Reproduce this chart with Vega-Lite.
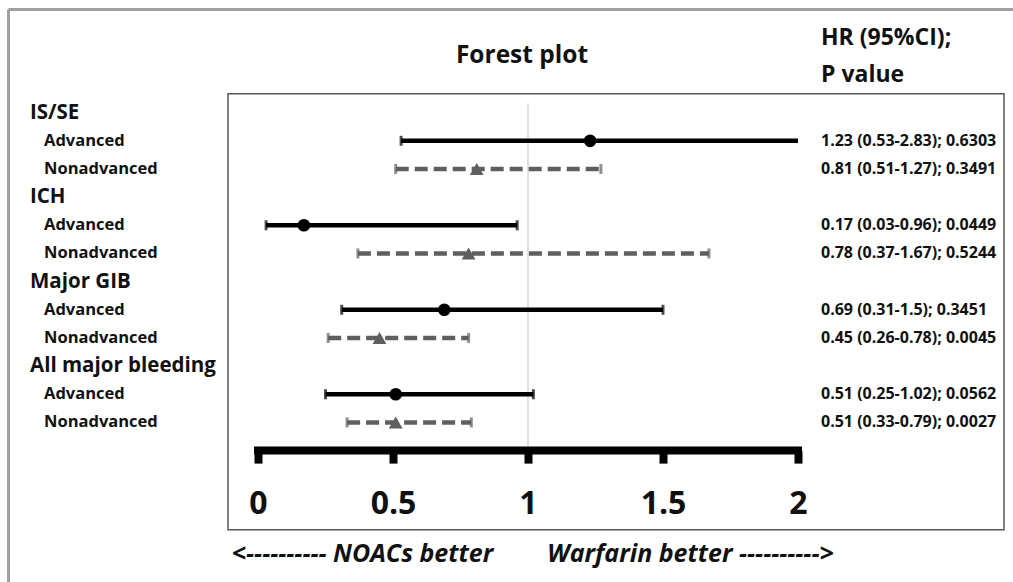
{
  "$schema": "https://vega.github.io/schema/vega-lite/v6.json",
  "width": 1013,
  "height": 450.6,
  "autosize": "none",
  "padding": {"left": 0, "top": 0, "right": 0, "bottom": 131.4},
  "background": "white",
  "config": {
    "view": {"stroke": null},
    "text": {"font": "Open Sans", "fontWeight": "bold", "color": "#111111"}
  },
  "datasets": {
    "rows": [
      {"group": "IS/SE", "sub": "Advanced", "key": "IS/SE Advanced", "hr": 1.23, "lo": 0.53, "hi": 2.83, "label": "1.23 (0.53-2.83); 0.6303"},
      {"group": "IS/SE", "sub": "Nonadvanced", "key": "IS/SE Nonadvanced", "hr": 0.81, "lo": 0.51, "hi": 1.27, "label": "0.81 (0.51-1.27); 0.3491"},
      {"group": "ICH", "sub": "Advanced", "key": "ICH Advanced", "hr": 0.17, "lo": 0.03, "hi": 0.96, "label": "0.17 (0.03-0.96); 0.0449"},
      {"group": "ICH", "sub": "Nonadvanced", "key": "ICH Nonadvanced", "hr": 0.78, "lo": 0.37, "hi": 1.67, "label": "0.78 (0.37-1.67); 0.5244"},
      {"group": "Major GIB", "sub": "Advanced", "key": "Major GIB Advanced", "hr": 0.69, "lo": 0.31, "hi": 1.5, "label": "0.69 (0.31-1.5); 0.3451"},
      {"group": "Major GIB", "sub": "Nonadvanced", "key": "Major GIB Nonadvanced", "hr": 0.45, "lo": 0.26, "hi": 0.78, "label": "0.45 (0.26-0.78); 0.0045"},
      {"group": "All major bleeding", "sub": "Advanced", "key": "All major bleeding Advanced", "hr": 0.51, "lo": 0.25, "hi": 1.02, "label": "0.51 (0.25-1.02); 0.0562"},
      {"group": "All major bleeding", "sub": "Nonadvanced", "key": "All major bleeding Nonadvanced", "hr": 0.51, "lo": 0.33, "hi": 0.79, "label": "0.51 (0.33-0.79); 0.0027"}
    ],
    "groups": [
      {"group": "IS/SE"},
      {"group": "ICH"},
      {"group": "Major GIB"},
      {"group": "All major bleeding"}
    ],
    "one": [{}]
  },
  "data": {"name": "rows"},
  "transform": [{"calculate": "min(datum.hi, 2)", "as": "hi_shown"}],
  "layer": [
    {
      "data": {"name": "one"},
      "mark": {"type": "rule", "color": "#a0a0a0", "strokeWidth": 3},
      "encoding": {
        "x": {"datum": -0.92407, "type": "quantitative", "scale": {"domain": [-0.955556, 2.796296], "nice": false, "zero": false}, "axis": {"orient": "bottom", "domain": false, "grid": false, "ticks": true, "tickColor": "#000000", "tickWidth": 8, "tickSize": 12.5, "values": [0, 0.5, 1, 1.5, 2], "format": "~g", "labelFont": "Open Sans", "labelFontWeight": "bold", "labelFontSize": 32, "labelColor": "#111111", "labelPadding": 25, "labelFlush": false, "labelOverlap": false, "title": null}},
        "y": {"datum": "_m11", "type": "nominal", "axis": null, "scale": {"type": "point", "padding": 0, "range": [0, 582], "domain": ["_m12","_m11","_m10","_m9","hr1","_m7","title","_m5","hr2","_m3","boxTop","refTop","IS/SE","_1","_2","IS/SE Advanced","_4","_5","IS/SE Nonadvanced","_7","_8","ICH","_10","_11","ICH Advanced","_13","_14","ICH Nonadvanced","_16","_17","Major GIB","_19","_20","Major GIB Advanced","_22","_23","Major GIB Nonadvanced","_25","_26","All major bleeding","_28","_29","All major bleeding Advanced","_31","_32","All major bleeding Nonadvanced","_34","_35","axis","_37","_38","_39","_40","_41","_42","_43","boxBottom","_45","_46","footer","_48","_49","_50"]}},
        "y2": {"datum": "_50"}
      }
    },
    {
      "data": {"name": "one"},
      "mark": {"type": "rule", "color": "#a0a0a0", "strokeWidth": 3},
      "encoding": {
        "x": {"datum": -0.92407, "type": "quantitative"},
        "x2": {"datum": 2.796296},
        "y": {"datum": "_m11", "type": "nominal", "axis": null}
      }
    },
    {
      "data": {"name": "one"},
      "mark": {"type": "rect", "fill": null, "fillOpacity": 0, "stroke": "#555555", "strokeWidth": 1.5, "y2Offset": 4},
      "encoding": {
        "x": {"datum": -0.11111, "type": "quantitative"},
        "x2": {"datum": 2.76296},
        "y": {"datum": "boxTop", "type": "nominal", "axis": null},
        "y2": {"datum": "boxBottom"}
      }
    },
    {
      "data": {"name": "one"},
      "mark": {"type": "rule", "color": "#cccccc", "strokeWidth": 1.2},
      "encoding": {
        "x": {"datum": 1, "type": "quantitative"},
        "y": {"datum": "refTop", "type": "nominal", "axis": null},
        "y2": {"datum": "axis"}
      }
    },
    {
      "data": {"name": "one"},
      "mark": {"type": "rule", "color": "#000000", "strokeWidth": 8, "strokeCap": "square"},
      "encoding": {
        "x": {"datum": 0, "type": "quantitative"},
        "x2": {"datum": 2},
        "y": {"datum": "axis", "type": "nominal", "axis": null}
      }
    },
    {
      "transform": [{"filter": "datum.sub === 'Advanced'"}],
      "mark": {"type": "rule", "color": "#000000", "strokeWidth": 4.5},
      "encoding": {
        "x": {"field": "lo", "type": "quantitative"},
        "x2": {"field": "hi_shown"},
        "y": {"field": "key", "type": "nominal", "axis": null}
      }
    },
    {
      "transform": [{"filter": "datum.sub === 'Nonadvanced'"}],
      "mark": {"type": "rule", "color": "#5f5f5f", "strokeWidth": 4.5, "strokeDash": [13, 6]},
      "encoding": {
        "x": {"field": "lo", "type": "quantitative"},
        "x2": {"field": "hi_shown"},
        "y": {"field": "key", "type": "nominal", "axis": null}
      }
    },
    {
      "mark": {"type": "tick", "thickness": 3, "size": 10},
      "encoding": {
        "x": {"field": "lo", "type": "quantitative"},
        "y": {"field": "key", "type": "nominal", "axis": null},
        "color": {"field": "sub", "type": "nominal", "scale": {"domain": ["Advanced", "Nonadvanced"], "range": ["#000000", "#5f5f5f"]}, "legend": null}
      }
    },
    {
      "transform": [{"filter": "datum.hi <= 2"}],
      "mark": {"type": "tick", "thickness": 3, "size": 10},
      "encoding": {
        "x": {"field": "hi", "type": "quantitative"},
        "y": {"field": "key", "type": "nominal", "axis": null},
        "color": {"field": "sub", "type": "nominal", "legend": null}
      }
    },
    {
      "transform": [{"filter": "datum.sub === 'Advanced'"}],
      "mark": {"type": "point", "shape": "circle", "filled": true, "color": "#000000", "size": 160, "opacity": 1},
      "encoding": {
        "x": {"field": "hr", "type": "quantitative"},
        "y": {"field": "key", "type": "nominal", "axis": null}
      }
    },
    {
      "transform": [{"filter": "datum.sub === 'Nonadvanced'"}],
      "mark": {"type": "point", "shape": "triangle-up", "filled": true, "color": "#5f5f5f", "size": 190, "opacity": 1},
      "encoding": {
        "x": {"field": "hr", "type": "quantitative"},
        "y": {"field": "key", "type": "nominal", "axis": null}
      }
    },
    {
      "mark": {"type": "text", "align": "left", "baseline": "middle", "fontSize": 16.5},
      "encoding": {
        "x": {"datum": -0.79259, "type": "quantitative"},
        "y": {"field": "key", "type": "nominal", "axis": null},
        "text": {"field": "sub"}
      }
    },
    {
      "mark": {"type": "text", "align": "left", "baseline": "middle", "fontSize": 16},
      "encoding": {
        "x": {"datum": 2.08519, "type": "quantitative"},
        "y": {"field": "key", "type": "nominal", "axis": null},
        "text": {"field": "label"}
      }
    },
    {
      "data": {"name": "groups"},
      "mark": {"type": "text", "align": "left", "baseline": "middle", "fontSize": 20.5},
      "encoding": {
        "x": {"datum": -0.84444, "type": "quantitative"},
        "y": {"field": "group", "type": "nominal", "axis": null},
        "text": {"field": "group"}
      }
    },
    {
      "data": {"name": "one"},
      "mark": {"type": "text", "align": "center", "baseline": "middle", "fontSize": 24.5, "text": "Forest plot"},
      "encoding": {
        "x": {"datum": 0.97778, "type": "quantitative"},
        "y": {"datum": "title", "type": "nominal", "axis": null}
      }
    },
    {
      "data": {"name": "one"},
      "mark": {"type": "text", "align": "left", "baseline": "middle", "fontSize": 23, "text": "HR (95%CI);"},
      "encoding": {
        "x": {"datum": 2.0852, "type": "quantitative"},
        "y": {"datum": "hr1", "type": "nominal", "axis": null}
      }
    },
    {
      "data": {"name": "one"},
      "mark": {"type": "text", "align": "left", "baseline": "middle", "fontSize": 23, "text": "P value"},
      "encoding": {
        "x": {"datum": 2.0852, "type": "quantitative"},
        "y": {"datum": "hr2", "type": "nominal", "axis": null}
      }
    },
    {
      "data": {"name": "one"},
      "mark": {"type": "text", "align": "center", "baseline": "middle", "fontSize": 25, "fontStyle": "italic", "text": "<---------- NOACs better"},
      "encoding": {
        "x": {"datum": 0.38704, "type": "quantitative"},
        "y": {"datum": "footer", "type": "nominal", "axis": null}
      }
    },
    {
      "data": {"name": "one"},
      "mark": {"type": "text", "align": "center", "baseline": "middle", "fontSize": 25, "fontStyle": "italic", "text": "Warfarin better ---------->"},
      "encoding": {
        "x": {"datum": 1.60185, "type": "quantitative"},
        "y": {"datum": "footer", "type": "nominal", "axis": null}
      }
    }
  ]
}
